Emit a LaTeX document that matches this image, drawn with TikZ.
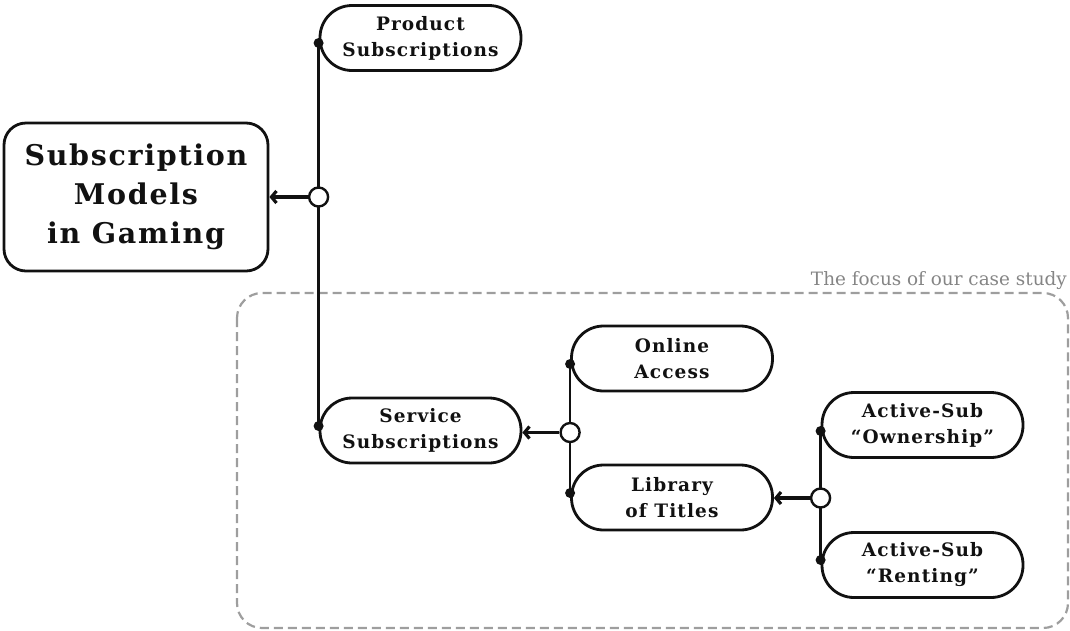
\documentclass[tikz,border=0pt]{standalone}
\usepackage{fontspec}
\usetikzlibrary{arrows.meta,calc}
\setmainfont{DejaVu Serif}
\newfontfamily\boxfont[LetterSpace=6]{DejaVu Serif}
\newfontfamily\notefont{DejaVu Serif}
\definecolor{inkgray}{HTML}{858585}
\definecolor{framegray}{HTML}{9E9E9E}
\definecolor{ink}{HTML}{111111}

\begin{document}
\begin{tikzpicture}[x=1pt,y=-1pt,
  pill/.style={draw=ink, line width=2.8pt, fill=white, rounded corners=32pt,
    minimum width=201pt, minimum height=65pt, inner sep=0pt, align=center,
    text=ink, font=\boxfont\bfseries\fontsize{18.5}{26}\selectfont},
  rootbox/.style={draw=ink, line width=2.8pt, fill=white, rounded corners=22pt,
    minimum width=264pt, minimum height=148pt, inner sep=0pt, align=center,
    text=ink, font=\boxfont\bfseries\fontsize{28.5}{39}\selectfont},
  junction/.style={circle, draw=ink, fill=white, line width=2.4pt,
    minimum size=19pt, inner sep=0pt},
  link/.style={draw=ink, line width=2.5pt},
  feed/.style={draw=ink, line width=3.2pt,
    -{Straight Barb[length=5pt,width=12pt]}},
  focusframe/.style={draw=framegray, line width=2.2pt,
    dash pattern=on 9pt off 5pt, rounded corners=25pt}
]
\useasboundingbox (0,0) rectangle (1070,630);

% highlighted region
\draw[focusframe] (237,293) rectangle (1068,628);
\node[anchor=base east, text=inkgray, inner sep=0pt,
      font=\notefont\fontsize{18.4}{20}\selectfont] (focuslabel) at (1067,285)
  {The focus of our case study};

% nodes
\node[rootbox] (root) at (136,197) {Subscription\\Models\\in Gaming};
\node[pill] (prod) at (420.5,38) {Product\\Subscriptions};
\node[pill] (svc) at (420.5,430.5) {Service\\Subscriptions};
\node[pill] (online) at (672,358.5) {Online\\Access};
\node[pill] (lib) at (672,497.5) {Library\\of Titles};
\node[pill] (own) at (922.5,425) {Active-Sub\\“Ownership”};
\node[pill] (rent) at (922.5,565) {Active-Sub\\“Renting”};

% attachment points on the left of each child
\coordinate (dprod) at ($(prod.west)+(0,5)$);
\coordinate (dsvc) at ($(svc.west)+(0,-4.5)$);
\coordinate (donline) at ($(online.west)+(0,5.5)$);
\coordinate (dlib) at ($(lib.west)+(0,-4.5)$);
\coordinate (down) at ($(own.west)+(0,6)$);
\coordinate (drent) at ($(rent.west)+(0,-5)$);

% vertical bus lines
\draw[link] (dprod) -- (dsvc);
\draw[link] (donline) -- (dlib);
\draw[link] (down) -- (drent);

% junctions
\node[junction] (j1) at (dprod |- root) {};
\node[junction] (j2) at ($(donline)!0.5!(dlib)+(0,4)$) {};
\node[junction] (j3) at ($(down)!0.5!(drent)+(0,2.5)$) {};

% arrows towards the parent
\draw[feed] (j1) -- (root.east |- j1);
\draw[feed] (j2) -- (svc.east |- j2);
\draw[feed] (j3) -- (lib.east |- j3);

% dots
\foreach \d in {dprod,dsvc,donline,dlib,down,drent}
  \fill[ink] (\d) circle (5pt);
\end{tikzpicture}
\end{document}
